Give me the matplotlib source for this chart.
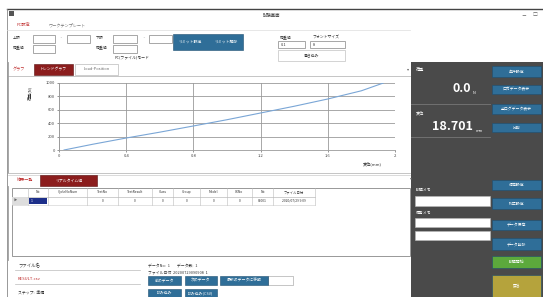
import matplotlib
matplotlib.use("Agg")
import matplotlib.pyplot as plt
from matplotlib.patches import Rectangle

plt.rcParams['font.family'] = ['Noto Sans CJK JP', 'DejaVu Sans']

## chart data (displacement mm / load N)

disp = [0.03, 0.2, 0.4, 0.6, 0.8, 1.0, 1.2, 1.4, 1.6, 1.8, 1.93]
load = [0, 85, 178, 265, 357, 450, 550, 650, 758, 880, 995]
xticks = [0, 0.4, 0.8, 1.2, 1.6, 2]
xticklabels = ["0", "0.4", "0.8", "1.2", "1.6", "2"]
yticks = [0, 200, 400, 600, 800, 1000]

## table / panel texts

col_names = ["No", "CycleNoNum", "TestNo", "TestResult", "Class", "Group", "Model", "XXNo", "No", "ファイル日付"]
row_values = ["1", "", "0", "0", "0", "0", "0", "0", "00001", "2020/07/29 9:09"]
col_edges = [28, 48, 87, 118, 152, 173, 200, 227, 252, 273, 315]
right_buttons = ["条件設定", "ロガデータ表示", "全ログデータ表示", "比較", "環境設定", "校正設定",
                 "データ保存", "データ削除"]
load_value = "0.0"
disp_value = "18.701"

W, H = 543, 297
BLUE = '#2f6e98'
DARK = '#4a4a4a'
RED = '#8b1d1d'

fig = plt.figure(figsize=(W / 100, H / 100), dpi=100)
bg = fig.add_axes([0, 0, 1, 1])
bg.set_xlim(0, W)
bg.set_ylim(H, 0)
bg.axis('off')


def box(x0, y0, x1, y1, fc='white', ec='none', lw=0.6, z=1):
    bg.add_patch(Rectangle((x0, y0), x1 - x0, y1 - y0, facecolor=fc, edgecolor=ec, linewidth=lw, zorder=z))


def txt(x, y, s, size=3, color='#333333', ha='left', weight='normal', z=3):
    bg.text(x, y, s, fontsize=size, color=color, ha=ha, va='center', fontweight=weight, zorder=z)


def button(x0, y0, x1, y1, label, fc=BLUE):
    box(x0, y0, x1, y1, fc=fc, ec='#1f4f70', lw=0.4, z=2)
    txt((x0 + x1) / 2, (y0 + y1) / 2, label, size=2.8, color='white', ha='center')


## window frame and title bar
box(0, 0, W, H, fc='white')
bg.plot([7, W], [9, 9], color='#444444', lw=1.0)
bg.plot([7, 7], [9, H], color='#888888', lw=0.6)
box(9, 11, 14, 16, fc='#555555')
txt(272, 15, "試験画面", size=3.2, ha='center')
txt(524, 15, "－", size=3.5, color='#666666', ha='center')
txt(535, 15, "□", size=3.5, color='#666666', ha='center')

## top settings
txt(17, 25, "PC設定", size=3, color='#c03030')
txt(48, 25, "ワークテンプレート", size=3, color='#777777')
bg.plot([7, 410], [30, 30], color='#dddddd', lw=0.5)
txt(13, 38, "上限", size=2.8)
txt(13, 47, "荷重値", size=2.8)
box(33, 35, 55, 43, ec='#999999')
box(33, 45, 55, 53, ec='#999999')
txt(60, 38, "~", size=3)
box(67, 35, 90, 43, ec='#999999')
txt(96, 38, "下限", size=2.8)
txt(96, 47, "荷重値", size=2.8)
box(113, 35, 137, 43, ec='#999999')
box(113, 45, 137, 53, ec='#999999')
txt(143, 38, "~", size=3)
box(149, 35, 172, 43, ec='#999999')
box(173, 34, 243, 50, fc=BLUE, ec='#1f4f70', lw=0.4, z=2)
txt(190, 42, "リミット設定", size=2.8, color='white', ha='center')
txt(226, 42, "リミット解除", size=2.8, color='white', ha='center')
txt(132, 57, "PC(ファイル)モード", size=2.8, ha='center')
txt(280, 37, "荷重値", size=2.8)
txt(312, 37, "フォントサイズ", size=2.8)
box(278, 41, 305, 48, ec='#999999')
box(310, 41, 345, 48, ec='#999999')
txt(281, 44.5, "0.1", size=2.8)
txt(313, 44.5, "8", size=2.8)
box(278, 50, 345, 61, ec='#cccccc')
txt(311, 56, "書き込み", size=2.8, ha='center')

## graph panel
txt(13, 69, "グラフ", size=3, color='#c03030')
box(34, 64, 73, 75, fc=RED, ec='#5a1010', lw=0.4, z=2)
txt(53.5, 69.5, "トレンドグラフ", size=2.8, color='white', ha='center')
box(75, 64, 118, 75, fc='white', ec='#aaaaaa', lw=0.4, z=2)
txt(96.5, 69.5, "Load-Position", size=2.8, color='#666666', ha='center')
bg.plot([8, 410], [76, 76], color='#bbbbbb', lw=0.6)
bg.plot([8, 8], [62, 173], color='#999999', lw=0.6)
bg.plot([8, 410], [173, 173], color='#bbbbbb', lw=0.6)
txt(408, 69, "▾", size=3, color='#666666', ha='center')
bg.text(30, 93, "荷重(N)", fontsize=3, color='#333333', rotation=90, ha='center', va='center')
txt(372, 164, "変位(mm)", size=3, ha='center')

## result table
bg.plot([8, 410], [175, 175], color='#cccccc', lw=0.5)
txt(411, 178, "▾", size=3, color='#666666', ha='center')
txt(17, 180, "結果一覧", size=3, color='#c03030')
box(40, 175, 97, 186, fc=RED, ec='#5a1010', lw=0.4, z=2)
txt(68.5, 180.5, "リアルタイム値", size=2.8, color='white', ha='center')
box(12, 188, 410, 256, fc='white', ec='#888888', lw=0.6)
bg.plot([8, 8], [186, 260], color='#999999', lw=0.6)
bg.plot([12, 315], [196.5, 196.5], color='#aaaaaa', lw=0.4)
bg.plot([12, 315], [204.5, 204.5], color='#cccccc', lw=0.4)
box(12, 197, 28, 204.5, fc='#dddddd', z=2)
txt(14, 200.8, "▶", size=2.4, color='#666666')
for i, name in enumerate(col_names):
    x0, x1 = col_edges[i], col_edges[i + 1]
    bg.plot([x0, x0], [188, 204.5], color='#bbbbbb', lw=0.4)
    txt((x0 + x1) / 2, 192.3, name, size=2.4, ha='center')
    if i == 0:
        box(x0 + 1, 197.5, x1 - 1, 204, fc='#1d2f8a', z=2)
        txt(x0 + 3, 200.8, row_values[i], size=2.4, color='white')
    else:
        txt((x0 + x1) / 2, 200.8, row_values[i], size=2.4, ha='center')
bg.plot([315, 315], [188, 204.5], color='#bbbbbb', lw=0.4)

## bottom info
txt(18, 265, "ファイル名", size=3.2)
bg.plot([15, 140], [270, 270], color='#bbbbbb', lw=0.5)
txt(18, 279, "RESULT.csv", size=3, color='#c03030')
bg.plot([15, 140], [284, 284], color='#bbbbbb', lw=0.5)
txt(18, 293, "ステップ:  準備", size=2.8)
txt(148, 265, "データNo:  1        データ数:  1", size=2.8)
txt(148, 272, "ファイル日付  20200729090908  1", size=2.8)
button(148, 276, 181, 285, "前のデータ")
button(185, 276, 217, 285, "次のデータ")
button(220, 276, 268, 285, "最新のデータに移動")
box(268, 276, 293, 285, fc='white', ec='#999999', lw=0.4)
button(148, 289, 181, 297, "読み込み")
button(185, 289, 217, 297, "読み込み(CSV)")

## right panel
box(411, 62, W, H, fc=DARK)
txt(416, 70, "荷重", size=3, color='white')
txt(471, 88, load_value, size=9, color='white', ha='right', weight='bold')
txt(473, 93, "N", size=2.8, color='white')
bg.plot([411, 490], [104, 104], color='#777777', lw=0.6)
txt(416, 113, "変位", size=3, color='white')
txt(473, 127, disp_value, size=9, color='white', ha='right', weight='bold')
txt(476, 131, "mm", size=2.8, color='white')
bg.plot([411, 490], [137, 137], color='#777777', lw=0.6)
txt(416, 190, "試験メモ", size=2.8, color='white')
box(415, 196, 490, 206, fc='white', ec='#bbbbbb', lw=0.4, z=2)
txt(416, 213, "備考メモ", size=2.8, color='white')
box(415, 218, 490, 227, fc='white', ec='#bbbbbb', lw=0.4, z=2)
box(415, 231, 490, 240, fc='white', ec='#bbbbbb', lw=0.4, z=2)

btn_y = [(66, 77), (85, 94), (104, 114), (123, 132), (180, 190), (198, 209), (220, 230), (238, 250)]
for (y0, y1), label in zip(btn_y, right_buttons):
    button(492, y0, 541, y1, label)
button(492, 256, 541, 268, "試験開始", fc='#5ca93c')
button(492, 275, 541, 297, "戻る", fc='#b5a33c')

## chart
ax = fig.add_axes([59 / W, (H - 150) / H, (395 - 59) / W, (150 - 82.7) / H])
ax.plot(disp, load, color='#7aa6d6', lw=0.8)
ax.set_xlim(0, 2)
ax.set_ylim(0, 1000)
ax.set_xticks(xticks)
ax.set_xticklabels(xticklabels)
ax.set_yticks(yticks)
ax.grid(True, color='#9a9a9a', lw=0.6)
ax.tick_params(labelsize=3, length=1.5, width=0.4, pad=1.5, colors='#444444')
for side in ['top', 'right']:
    ax.spines[side].set_visible(False)
for side in ['left', 'bottom']:
    ax.spines[side].set_color('#9a9a9a')
    ax.spines[side].set_linewidth(0.6)

fig.savefig("out.png", dpi=100)
